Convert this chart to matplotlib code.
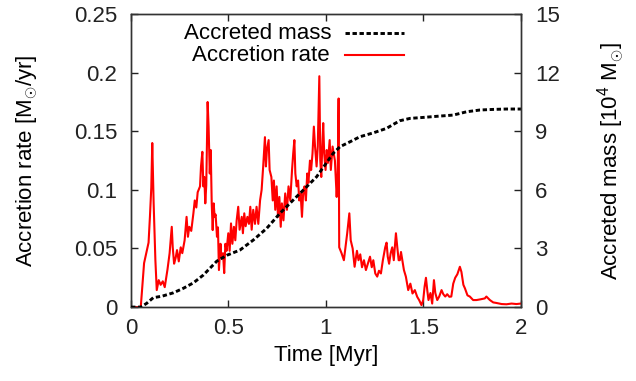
# Accretion rate and accreted mass vs time
import numpy as np
import matplotlib
matplotlib.use('Agg')
import matplotlib.pyplot as plt

plt.rcParams['font.family'] = ['Liberation Sans', 'DejaVu Sans']
plt.rcParams['mathtext.fontset'] = 'custom'
plt.rcParams['mathtext.rm'] = 'Liberation Sans'
plt.rcParams['mathtext.it'] = 'Liberation Sans'

# accretion rate [Msun/yr]
rate_t = [0.0, 0.05, 0.067, 0.078, 0.09, 0.097, 0.104, 0.109, 0.116, 0.125,
          0.132, 0.142, 0.152, 0.163, 0.173, 0.187, 0.198, 0.209, 0.214, 0.221,
          0.229, 0.236, 0.245, 0.255, 0.263, 0.275, 0.285, 0.292, 0.299, 0.309,
          0.32, 0.327, 0.335, 0.342, 0.354, 0.359, 0.366, 0.371, 0.376, 0.381,
          0.386, 0.393, 0.398, 0.404, 0.409, 0.414, 0.419, 0.424, 0.429, 0.434,
          0.441, 0.446, 0.451, 0.459, 0.463, 0.472, 0.478, 0.484, 0.49, 0.499,
          0.506, 0.513, 0.52, 0.528, 0.535, 0.542, 0.55, 0.557, 0.568, 0.574,
          0.581, 0.588, 0.597, 0.605, 0.612, 0.619, 0.627, 0.636, 0.644, 0.653,
          0.662, 0.670, 0.678, 0.687, 0.692, 0.697, 0.706, 0.711, 0.72, 0.727,
          0.733, 0.74, 0.747, 0.754, 0.761, 0.768, 0.774, 0.782, 0.791, 0.8,
          0.808, 0.817, 0.826, 0.832, 0.838, 0.843, 0.85, 0.857, 0.863, 0.87,
          0.877, 0.883, 0.89, 0.897, 0.904, 0.91, 0.918, 0.924, 0.931, 0.938,
          0.944, 0.952, 0.958, 0.966, 0.971, 0.976, 0.981, 0.986, 0.991, 0.998,
          1.004, 1.01, 1.019, 1.025, 1.034, 1.046, 1.055, 1.06, 1.065, 1.068,
          1.08, 1.092, 1.1, 1.109, 1.12, 1.127, 1.137, 1.147, 1.159, 1.167,
          1.176, 1.185, 1.195, 1.205, 1.215, 1.226, 1.235, 1.243, 1.253, 1.263,
          1.272, 1.282, 1.292, 1.304, 1.311, 1.317, 1.324, 1.332, 1.34, 1.348,
          1.359, 1.366, 1.373, 1.379, 1.385, 1.4, 1.41, 1.422, 1.433, 1.444,
          1.456, 1.468, 1.478, 1.49, 1.499, 1.506, 1.513, 1.52, 1.526, 1.536,
          1.545, 1.554, 1.561, 1.571, 1.581, 1.593, 1.602, 1.612, 1.622, 1.633,
          1.643, 1.653, 1.663, 1.674, 1.687, 1.695, 1.705, 1.713, 1.726, 1.738,
          1.755, 1.772, 1.789, 1.815, 1.823, 1.841, 1.858, 1.875, 1.901, 1.926,
          1.952, 1.977, 2.0]
rate = [0.0, 0.0, 0.0375, 0.046, 0.055, 0.077, 0.102, 0.14, 0.089, 0.04,
        0.0145, 0.023, 0.019, 0.022, 0.017, 0.032, 0.046, 0.0685, 0.051, 0.037,
        0.042, 0.0486, 0.039, 0.051, 0.046, 0.057, 0.077, 0.06, 0.0685, 0.065,
        0.08, 0.091, 0.085, 0.098, 0.103, 0.12, 0.1325, 0.103, 0.111, 0.0885,
        0.104, 0.175, 0.154, 0.114, 0.134, 0.0885, 0.0657, 0.0885, 0.077, 0.079,
        0.06, 0.068, 0.0316, 0.054, 0.043, 0.046, 0.029, 0.054, 0.048, 0.063,
        0.048, 0.0714, 0.054, 0.0685, 0.057, 0.074, 0.0856, 0.066, 0.077, 0.063,
        0.08, 0.069, 0.077, 0.071, 0.0856, 0.066, 0.083, 0.071, 0.0856, 0.071,
        0.091, 0.10, 0.12, 0.145, 0.12, 0.134, 0.1425, 0.117, 0.111, 0.091,
        0.108, 0.083, 0.103, 0.077, 0.094, 0.0685, 0.0885, 0.074, 0.097, 0.083,
        0.103, 0.091, 0.117, 0.131, 0.1425, 0.114, 0.103, 0.108, 0.091, 0.097,
        0.077, 0.097, 0.103, 0.091, 0.114, 0.106, 0.125, 0.117, 0.131, 0.154,
        0.137, 0.12, 0.137, 0.197, 0.125, 0.111, 0.137, 0.157, 0.131, 0.117,
        0.134, 0.123, 0.1425, 0.117, 0.137, 0.125, 0.094, 0.111, 0.178, 0.051,
        0.046, 0.04, 0.051, 0.063, 0.08, 0.057, 0.05, 0.0344, 0.048, 0.04,
        0.045, 0.034, 0.04, 0.0316, 0.037, 0.043, 0.034, 0.04, 0.0287, 0.026,
        0.031, 0.0287, 0.04, 0.051, 0.055, 0.043, 0.037, 0.046, 0.051, 0.04,
        0.063, 0.051, 0.04, 0.04, 0.047, 0.0316, 0.026, 0.0145, 0.02, 0.0116,
        0.0145, 0.0088, 0.006, 0.0017, 0.006, 0.0174, 0.025, 0.014, 0.006, 0.012,
        0.003, 0.023, 0.012, 0.006, 0.009, 0.0145, 0.011, 0.009, 0.011, 0.0088,
        0.009, 0.02, 0.025, 0.028, 0.0344, 0.03, 0.019, 0.016, 0.010, 0.009,
        0.006, 0.006, 0.0065, 0.0074, 0.009, 0.006, 0.004, 0.0035, 0.0026, 0.0024,
        0.003, 0.0026, 0.003]

# accreted mass [1e4 Msun]
mass_t = [0.0, 0.05, 0.08, 0.114, 0.16, 0.217, 0.268, 0.32, 0.371, 0.44,
          0.491, 0.559, 0.627, 0.696, 0.764, 0.832, 0.901, 0.952, 1.037, 1.072,
          1.123, 1.174, 1.243, 1.311, 1.345, 1.379, 1.431, 1.499, 1.585, 1.653,
          1.722, 1.79, 1.858, 1.926, 2.0]
mass = [0.0, 0.0, 0.19, 0.48, 0.56, 0.73, 0.96, 1.24, 1.64, 2.35,
        2.65, 2.92, 3.43, 4.03, 4.8, 5.48, 6.16, 6.67, 7.87, 8.21,
        8.46, 8.72, 8.92, 9.15, 9.35, 9.54, 9.66, 9.71, 9.78, 9.83,
        10.0, 10.09, 10.12, 10.14, 10.14]

fig = plt.figure(figsize=(6.36, 3.81), dpi=100)
ax = fig.add_axes([0.206, 0.194, 0.613, 0.769])
ax2 = ax.twinx()

ax.plot(rate_t, rate, color='#ff0000', lw=1.5, zorder=2)
ax2.plot(mass_t, mass, color='black', lw=2.1, ls=(0, (1.5, 0.9)), zorder=3)

ax.set_xlim(0, 2)
ax.set_ylim(0, 0.25)
ax2.set_ylim(0, 15)
ax.set_xticks([0, 0.5, 1, 1.5, 2])
ax.set_xticklabels(['0', '0.5', '1', '1.5', '2'])
ax.set_yticks([0, 0.05, 0.1, 0.15, 0.2, 0.25])
ax.set_yticklabels(['0', '0.05', '0.1', '0.15', '0.2', '0.25'])
ax2.set_yticks([0, 3, 6, 9, 12, 15])

for a in (ax, ax2):
    a.tick_params(direction='in', length=5, width=1, labelsize=16, pad=10,
                  colors='#222222')
    for s in a.spines.values():
        s.set_linewidth(1.0)
        s.set_color('#333333')
ax.tick_params(axis='x', top=True, pad=8)
ax.tick_params(axis='y', right=False)

ax.set_xlabel('Time [Myr]', fontsize=16, labelpad=4)
ax.set_ylabel(r'Accretion rate [M$_{\odot}$/yr]', fontsize=16, labelpad=24)
ax2.set_ylabel(r'Accreted mass [10$^4$ M$_{\odot}$]', fontsize=16, labelpad=26)

# key, gnuplot style: right-justified text then line sample
ax.text(0.515, 0.935, 'Accreted mass', transform=ax.transAxes, ha='right',
        va='center', fontsize=16)
ax.text(0.51, 0.86, 'Accretion rate', transform=ax.transAxes, ha='right',
        va='center', fontsize=16)
ax.plot([0.548, 0.7], [0.935, 0.935], transform=ax.transAxes, color='black',
        lw=2.1, ls=(0, (1.5, 0.9)))
ax.plot([0.548, 0.7], [0.86, 0.86], transform=ax.transAxes, color='#ff0000',
        lw=1.5)

fig.savefig('out.png', dpi=100)
